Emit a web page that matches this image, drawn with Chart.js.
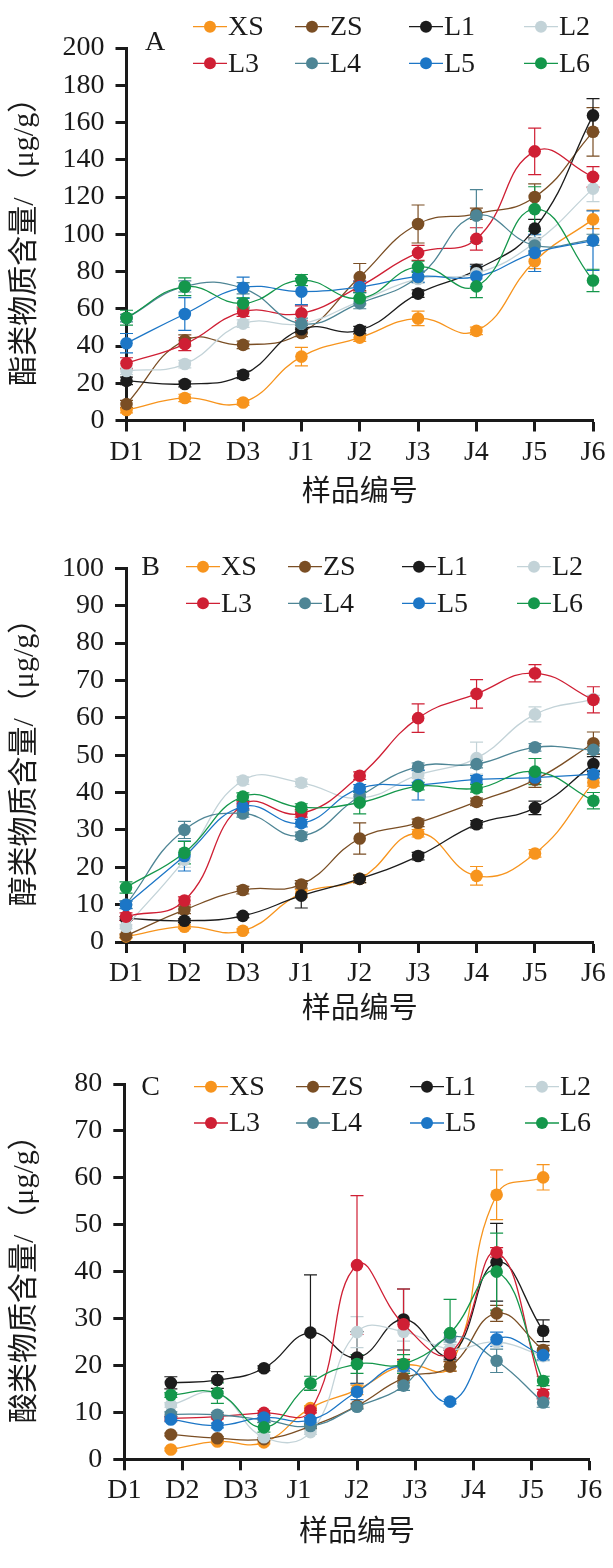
<!DOCTYPE html>
<html>
<head>
<meta charset="utf-8">
<script src="https://cdn.jsdelivr.net/npm/chart.js@4.4.0/dist/chart.umd.min.js"></script>
<style>
  body { margin: 0; background: #fff; width: 613px; }
  .panel { position: relative; width: 613px; }
  canvas { display: block; }
  .preload { position: absolute; left: -9999px; top: 0; font-size: 20px; }
</style>
</head>
<body>
<span class="preload" style="font-family:'Liberation Serif'">XS 200 D1 J6</span>
<span class="preload" style="font-family:'Noto Sans CJK SC'">样品编号酯类物质含量</span>
<div class="panel"><canvas id="chartA" width="613" height="520"></canvas></div>
<div class="panel"><canvas id="chartB" width="613" height="520"></canvas></div>
<div class="panel"><canvas id="chartC" width="613" height="528"></canvas></div>

<script>
// sample codes on the x axis
const cats = ["D1", "D2", "D3", "J1", "J2", "J3", "J4", "J5", "J6"]
const names = ["XS", "ZS", "L1", "L2", "L3", "L4", "L5", "L6"]

// A: esters (ug/g)
const esterXS = [5.6, 12.1, 9.7, 34.3, 44.5, 54.8, 48.1, 85.5, 108]
const esterZS = [8.8, 43, 40.6, 47, 77, 105.5, 111, 120, 155]
const esterL1 = [21.3, 19.6, 24.5, 49, 48.5, 68.1, 80.9, 103, 163.8]
const esterL2 = [26.6, 30.3, 52, 52, 64, 76, 79, 95.4, 124.5]
const esterL3 = [30.7, 41, 58.4, 57.5, 72, 90, 97.5, 144.5, 130.8]
const esterL4 = [55, 72, 71, 52, 63, 77, 110, 94, 97]
const esterL5 = [41.5, 57.2, 71.3, 69.2, 71.7, 77.3, 77.3, 90, 96.6]
const esterL6 = [55.2, 71.8, 62.9, 75.4, 65.6, 82.5, 72, 113.5, 75.2]
// error bars (+/-)
const esterErrXS = [1.5, 2, 1.5, 5, 2, 3.9, 2, 4, 5]
const esterErrZS = [2, 3, 2, 2, 7.3, 10.2, 3, 7, 13]
const esterErrL1 = [2, 1.5, 2, 2, 2, 2, 3, 5, 9]
const esterErrL2 = [2, 2, 2, 2, 2, 2, 3, 4, 7]
const esterErrL3 = [3, 3.5, 2.5, 4, 3, 4, 6, 12.5, 5.5]
const esterErrL4 = [2, 3, 3, 3, 3, 3, 14, 3, 3]
const esterErrL5 = [5.2, 8.8, 5.7, 7, 3, 3, 5.5, 10, 16]
const esterErrL6 = [4, 4.8, 3, 3, 3, 3, 6, 12, 6]

// B: alcohols (ug/g)
const alcoXS = [1.5, 4.1, 3, 13, 16.9, 29.1, 17.7, 23.7, 42.7]
const alcoZS = [1.7, 8.6, 13.9, 15.4, 27.7, 31.9, 37.5, 43.4, 53.2]
const alcoL1 = [6.3, 5.7, 7, 12.4, 16.9, 23, 31.5, 35.9, 47.6]
const alcoL2 = [4.1, 22, 43.2, 42.6, 38.5, 44.7, 49.2, 60.9, 65]
const alcoL3 = [6.8, 11.1, 36.7, 34.4, 44.5, 59.9, 66.4, 71.9, 64.8]
const alcoL4 = [10, 30, 34.4, 28.4, 39, 46.9, 47.6, 52.1, 51.4]
const alcoL5 = [9.9, 23, 36.2, 31.8, 41.1, 42, 43.5, 44, 44.9]
const alcoL6 = [14.6, 23.9, 38.9, 36, 37.3, 41.7, 41.1, 45.6, 37.8]
const alcoErrXS = [0.5, 0.5, 0.5, 1, 1, 1, 2.5, 1, 1]
const alcoErrZS = [0.5, 1, 1, 1, 4.2, 1, 1, 2, 3]
const alcoErrL1 = [0.5, 0.5, 0.5, 3.3, 1, 1, 1, 1.8, 2]
const alcoErrL2 = [0.5, 2, 1, 1, 1, 1, 4.3, 2, 1]
const alcoErrL3 = [1, 1, 1, 1, 1, 3.8, 3.8, 2.3, 3.5]
const alcoErrL4 = [1, 2.3, 1, 1, 1, 1, 1, 1, 1]
const alcoErrL5 = [1, 4, 1, 1, 1, 4, 1, 1, 1]
const alcoErrL6 = [1.5, 3, 1, 1, 3, 1, 1, 3.5, 2.2]

// C: acids (ug/g) - points sit between the category ticks in the original
const acidX = [0.8, 1.6, 2.4, 3.2, 4.0, 4.8, 5.6, 6.4, 7.2]
const acidXS = [2.1, 3.8, 3.6, 10.9, 14.8, 20, 19.8, 56.4, 60.1]
const acidZS = [5.3, 4.5, 4.3, 7, 11.4, 17.3, 19.8, 31.1, 23.3]
const acidL1 = [16.3, 16.9, 19.4, 27, 21.7, 29.8, 22.2, 42, 27.4]
const acidL2 = [11.6, 14, 4.7, 5.8, 27.1, 27.2, 23.5, 25, 22]
const acidL3 = [8.7, 9.1, 9.9, 10.4, 41.4, 28.8, 22.6, 44.1, 13.9]
const acidL4 = [9.6, 9.5, 8.4, 7.1, 11.2, 15.7, 26, 21, 12.1]
const acidL5 = [8.5, 7.2, 8.9, 8.4, 14.4, 19.8, 12.3, 25.6, 22.2]
const acidL6 = [13.7, 14.1, 6.8, 16.2, 20.3, 20.3, 26.9, 40, 16.7]
const acidErrXS = [0.3, 0.3, 0.3, 0.5, 1, 1, 1, 5.3, 2.7]
const acidErrZS = [0.3, 0.3, 0.3, 0.5, 0.5, 1, 1, 1.7, 1]
const acidErrL1 = [1.3, 1.8, 0.5, 12.3, 5.5, 6.5, 1, 8.3, 2.3]
const acidErrL2 = [0.5, 0.5, 0.5, 0.5, 3.3, 2, 1, 1, 1]
const acidErrL3 = [0.5, 0.5, 0.5, 0.5, 14.8, 7.5, 1, 1, 1]
const acidErrL4 = [0.5, 0.5, 0.5, 0.5, 0.5, 1, 1, 2.5, 1]
const acidErrL5 = [0.5, 0.5, 0.5, 0.5, 1.7, 1, 0.5, 1.5, 1]
const acidErrL6 = [0.5, 2.2, 1, 1.5, 2, 2, 7.2, 8.2, 1]

const colors = ["#F7941D", "#7A4E24", "#1C1C1C", "#C3D3D8", "#CF1F34", "#4E8595", "#1C76C6", "#14974B"]
const ink = "#1a1a1a"
const serif = "'Liberation Serif', 'DejaVu Serif', serif"
const cjk = "'Liberation Serif', 'Noto Sans CJK SC', serif"

// error bars, drawn under the lines
const errorBars = {
  id: "errorBars",
  beforeDatasetsDraw(chart) {
    const ctx = chart.ctx
    const y = chart.scales.y
    chart.data.datasets.forEach((ds, i) => {
      if (!ds.errors) return
      const meta = chart.getDatasetMeta(i)
      ctx.save()
      ctx.strokeStyle = ds.borderColor
      ctx.lineWidth = 1.2
      meta.data.forEach((pt, j) => {
        const e = ds.errors[j]
        if (!e) return
        const d = ds.data[j]
        const v = typeof d === "object" ? d.y : d
        const top = y.getPixelForValue(v + e)
        const bot = y.getPixelForValue(v - e)
        ctx.beginPath()
        ctx.moveTo(pt.x, top); ctx.lineTo(pt.x, bot)
        ctx.moveTo(pt.x - 6.5, top); ctx.lineTo(pt.x + 6.5, top)
        ctx.moveTo(pt.x - 6.5, bot); ctx.lineTo(pt.x + 6.5, bot)
        ctx.stroke()
      })
      ctx.restore()
    })
  },
}

// legend in two rows inside the plot + panel letter
const panelLegend = {
  id: "panelLegend",
  afterDraw(chart, args, opts) {
    const ctx = chart.ctx
    ctx.save()
    ctx.font = "28px " + serif
    ctx.textBaseline = "middle"
    const cols = [0, 102, 216, 331]
    chart.data.datasets.forEach((ds, i) => {
      const cx = opts.x + cols[i % 4]
      const cy = opts.rows[Math.floor(i / 4)]
      ctx.strokeStyle = ds.borderColor
      ctx.lineWidth = 1.3
      ctx.beginPath()
      ctx.moveTo(cx - 17, cy); ctx.lineTo(cx + 17, cy)
      ctx.stroke()
      ctx.fillStyle = ds.borderColor
      ctx.beginPath()
      ctx.arc(cx, cy, 6, 0, Math.PI * 2)
      ctx.fill()
      ctx.fillStyle = ink
      ctx.textAlign = "left"
      ctx.fillText(ds.label, cx + 18, cy + 1)
    })
    ctx.textAlign = "center"
    ctx.fillText(opts.letter, opts.letterX, opts.letterY + 1)
    ctx.restore()
  },
}

function makeSets(series, errs, xs) {
  return names.map((name, i) => ({
    label: name,
    data: xs ? series[i].map((v, j) => ({ x: xs[j], y: v })) : series[i],
    errors: errs[i],
    borderColor: colors[i],
    backgroundColor: colors[i],
    pointBackgroundColor: colors[i],
    pointBorderWidth: 0,
    pointRadius: 6.3,
    pointHoverRadius: 6.3,
    borderWidth: 1.3,
    tension: 0.45,
    clip: false,
    order: names.length - i,
  }))
}

function axisLook() {
  return {
    grid: { display: true, drawOnChartArea: false, drawTicks: true, tickLength: 11, tickWidth: 3, tickColor: ink },
    border: { display: true, color: ink, width: 3 },
  }
}

function makeChart(id, p) {
  const xScale = Object.assign(axisLook(), {
    ticks: { color: ink, font: { family: serif, size: 28 }, padding: 4, maxRotation: 0, autoSkip: false },
    title: { display: true, text: "样品编号", color: ink, font: { family: cjk, size: 29 }, padding: { top: 0, bottom: p.xTitlePad } },
    afterFit: (s) => { s.height = p.H - p.bottom },
  })
  if (p.xs) {
    xScale.type = "linear"
    xScale.min = 0
    xScale.max = 8
    xScale.ticks.stepSize = 1
    xScale.ticks.callback = (v) => cats[v]
  } else {
    xScale.type = "category"
  }

  const config = {
    type: "line",
    data: { labels: cats, datasets: makeSets(p.series, p.errs, p.xs) },
    options: {
      responsive: false,
      animation: false,
      layout: { padding: { top: p.top, right: 613 - p.right, bottom: 0, left: 0 } },
      plugins: {
        legend: { display: false },
        tooltip: { enabled: false },
        panelLegend: { x: p.legX, rows: p.legRows, letter: p.letter, letterX: p.letX, letterY: p.letY },
      },
      scales: {
        x: xScale,
        y: Object.assign(axisLook(), {
          min: 0,
          max: p.yMax,
          ticks: { stepSize: p.yStep, color: ink, font: { family: serif, size: 28 }, padding: 11 },
          title: { display: true, text: p.yTitle, color: ink, font: { family: cjk, size: 30 }, padding: { top: 7, bottom: 0 } },
          afterFit: (s) => { s.width = p.left },
        }),
      },
    },
    plugins: [errorBars, panelLegend],
  }
  return new Chart(document.getElementById(id).getContext("2d"), config)
}

function drawAll() {
  makeChart("chartA", {
    H: 520, left: 126.5, right: 593, top: 48, bottom: 420.5, xTitlePad: 9.6,
    yMax: 200, yStep: 20, yTitle: "酯类物质含量/（μg/g）",
    letter: "A", letX: 155, letY: 41.5, legX: 210, legRows: [26.7, 63.3],
    series: [esterXS, esterZS, esterL1, esterL2, esterL3, esterL4, esterL5, esterL6],
    errs: [esterErrXS, esterErrZS, esterErrL1, esterErrL2, esterErrL3, esterErrL4, esterErrL5, esterErrL6],
  })

  makeChart("chartB", {
    H: 520, left: 126, right: 593.4, top: 48.3, bottom: 422, xTitlePad: 12.6,
    yMax: 100, yStep: 10, yTitle: "醇类物质含量/（μg/g）",
    letter: "B", letX: 150.5, letY: 46.7, legX: 203, legRows: [46.7, 83.3],
    series: [alcoXS, alcoZS, alcoL1, alcoL2, alcoL3, alcoL4, alcoL5, alcoL6],
    errs: [alcoErrXS, alcoErrZS, alcoErrL1, alcoErrL2, alcoErrL3, alcoErrL4, alcoErrL5, alcoErrL6],
  })

  makeChart("chartC", {
    H: 528, left: 124.3, right: 589.7, top: 44, bottom: 419.3, xTitlePad: 17.6,
    yMax: 80, yStep: 10, yTitle: "酸类物质含量/（μg/g）",
    letter: "C", letX: 150.5, letY: 46.7, legX: 211, legRows: [46.7, 83],
    xs: acidX,
    series: [acidXS, acidZS, acidL1, acidL2, acidL3, acidL4, acidL5, acidL6],
    errs: [acidErrXS, acidErrZS, acidErrL1, acidErrL2, acidErrL3, acidErrL4, acidErrL5, acidErrL6],
  })
}

// make sure the system serif is ready before the canvases use it
Promise.all([
  document.fonts.load("28px 'Liberation Serif'"),
  document.fonts.load("28px 'Noto Sans CJK SC'", "样品"),
]).then(drawAll, drawAll)
</script>
</body>
</html>
